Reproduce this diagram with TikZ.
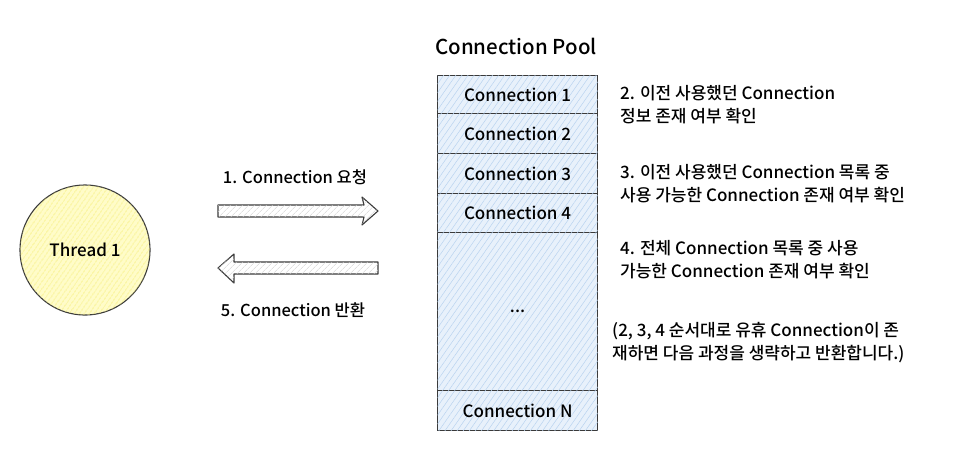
\documentclass[tikz,border=0pt]{standalone}
\usepackage{fontspec}
\setmainfont{Noto Sans CJK KR Medium}
\usetikzlibrary{patterns.meta}
\definecolor{stroke}{HTML}{3A3A3A}
\definecolor{boxfill}{HTML}{E8F1FB}
\definecolor{boxhatch}{HTML}{B9D3F0}
\definecolor{thfill}{HTML}{FFFCC8}
\definecolor{thhatch}{HTML}{F5EC70}
\definecolor{arhatch}{HTML}{D0D0D0}
\tikzset{
  poolbox/.style={draw=stroke, line width=1.1pt, fill=boxfill,
    postaction={pattern={Lines[angle=55,distance=5pt,line width=0.5pt]}, pattern color=boxhatch},
    minimum width=160pt, inner sep=0pt, anchor=north west, font=\fontsize{17}{19}\selectfont},
  blockarrow/.style={draw=stroke, line width=1.1pt, line join=round, fill=white,
    postaction={pattern={Lines[angle=45,distance=4pt,line width=0.5pt]}, pattern color=arhatch}},
  lbl/.style={font=\fontsize{17}{23}\selectfont, align=left, anchor=north west, inner sep=0pt},
  arlbl/.style={font=\fontsize{16.5}{18}\selectfont},
}
\begin{document}
\begin{tikzpicture}[x=1pt,y=-1pt]
\useasboundingbox (0,0) rectangle (969,456);
% thread
\node[circle, draw=stroke, line width=1.1pt, fill=thfill,
  postaction={pattern={Lines[angle=55,distance=4pt,line width=0.6pt]}, pattern color=thhatch},
  minimum size=130pt, inner sep=0pt, font=\fontsize{17}{19}\selectfont] (thread) at (85,250) {Thread 1};
% pool
\node[font=\fontsize{20.5}{22}\selectfont] (title) at (516,46) {Connection Pool};
\node[poolbox, minimum height=38pt] (c1) at (437,75) {Connection 1};
\node[poolbox, minimum height=40pt] (c2) at (437,113) {Connection 2};
\node[poolbox, minimum height=40pt] (c3) at (437,153) {Connection 3};
\node[poolbox, minimum height=39pt] (c4) at (437,193) {Connection 4};
\node[poolbox, minimum height=158pt] (cd) at (437,232) {...};
\node[poolbox, minimum height=40pt] (cn) at (437,390) {Connection N};
% arrows
\draw[blockarrow] (218,205) -- (364,205) -- (362,197) -- (378,211) -- (362,225) -- (364,217) -- (218,217) -- cycle;
\draw[blockarrow] (378,262) -- (234,262) -- (234,254) -- (218,268) -- (234,283) -- (234,274) -- (378,274) -- cycle;
\node[arlbl] (l1) at (295,177) {1. Connection 요청};
\node[arlbl] (l5) at (293,310) {5. Connection 반환};
% right texts
\node[lbl] (t2) at (620,85) {2. 이전 사용했던 Connection\\정보 존재 여부 확인};
\node[lbl] (t3) at (620,164) {3. 이전 사용했던 Connection 목록 중\\사용 가능한 Connection 존재 여부 확인};
\node[lbl] (t4) at (620,240) {4. 전체 Connection 목록 중 사용\\가능한 Connection 존재 여부 확인};
\node[lbl] (t5) at (612,322) {(2, 3, 4 순서대로 유휴 Connection이 존\\재하면 다음 과정을 생략하고 반환합니다.)};
\end{tikzpicture}
\end{document}
